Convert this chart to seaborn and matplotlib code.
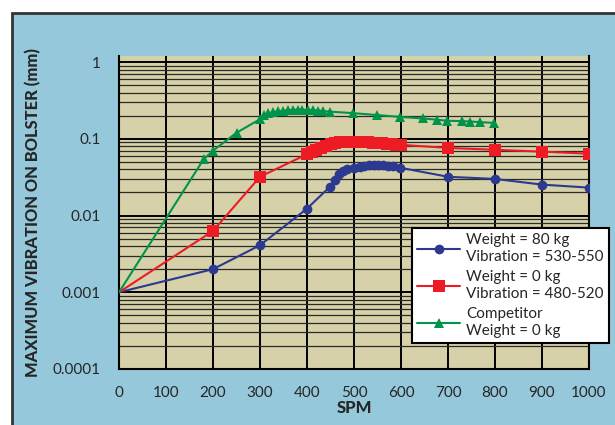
import numpy as np
import pandas as pd
import seaborn as sns
import matplotlib.pyplot as plt
from matplotlib.patches import Rectangle
from matplotlib.ticker import LogLocator, FixedLocator, NullFormatter

# datos
spm_80 = [0, 200, 300, 400, 449, 460, 468, 477, 485, 500, 512, 522, 532, 542,
          552, 562, 572, 582, 598, 700, 800, 900, 1000]
vib_80 = [0.001, 0.0020, 0.0041, 0.0123, 0.0238, 0.029, 0.035, 0.038, 0.041,
          0.042, 0.043, 0.044, 0.045, 0.0452, 0.0452, 0.045, 0.0445, 0.044,
          0.042, 0.032, 0.030, 0.0253, 0.0231]

spm_0 = [0, 200, 300, 400, 410, 420, 430, 440, 450, 460, 470, 480, 490, 500,
         510, 520, 530, 540, 550, 560, 570, 580, 590, 600, 700, 800, 900, 1000]
vib_0 = [0.001, 0.0063, 0.032, 0.063, 0.067, 0.072, 0.077, 0.081, 0.085,
         0.088, 0.090, 0.091, 0.092, 0.092, 0.092, 0.091, 0.090, 0.089,
         0.088, 0.087, 0.086, 0.085, 0.084, 0.0835, 0.076, 0.072, 0.068, 0.064]

spm_comp = [0, 180, 200, 250, 300, 308, 318, 328, 339, 349, 360, 370, 381, 390,
            402, 412, 423, 434, 449, 498, 549, 598, 647, 677, 698, 730, 747,
            768, 798]
vib_comp = [0.001, 0.054, 0.070, 0.12, 0.18, 0.205, 0.215, 0.222, 0.228, 0.232,
            0.236, 0.238, 0.24, 0.24, 0.238, 0.236, 0.233, 0.23, 0.226, 0.216,
            0.204, 0.193, 0.184, 0.177, 0.172, 0.170, 0.168, 0.165, 0.161]

labels = ["Weight = 80 kg\nVibration = 530-550",
          "Weight = 0 kg\nVibration = 480-520",
          "Competitor\nWeight = 0 kg"]
x_ticks = [0, 100, 200, 300, 400, 500, 600, 700, 800, 900, 1000]
y_ticks = [0.0001, 0.001, 0.01, 0.1, 1]
y_ticklabels = ["0.0001", "0.001", "0.01", "0.1", "1"]

sns.set_style("white")
plt.rcParams['font.family'] = ['Lato', 'DejaVu Sans']

fig = plt.figure(figsize=(6.15, 4.25), dpi=100)
fig.patch.set_facecolor("white")

# panel azul de fondo (en un eje aparte, detras de todo)
bg = fig.add_axes([0, 0, 1, 1], zorder=-1)
bg.set_xlim(0, 615)
bg.set_ylim(425, 0)
bg.axis("off")
bg.add_patch(Rectangle((12, 13), 700, 500, facecolor="#95C8DB",
                       edgecolor="#333333", linewidth=2))

ax = fig.add_axes([119 / 615, (425 - 369) / 425, 470 / 615, 313 / 425], zorder=1)
ax.set_facecolor("#D6D1A8")

colores = ["#2B3990", "#ED1C24", "#00934A"]
marcadores = ["o", "s", "^"]
tamanos = [7, 9, 6.5]
series = [(spm_80, vib_80), (spm_0, vib_0), (spm_comp, vib_comp)]
for (xs, ys), lab, c, m, ms in zip(series, labels, colores, marcadores, tamanos):
    df = pd.DataFrame({"SPM": xs, "vib": ys})
    # el punto de origen no lleva marcador
    sns.lineplot(data=df, x="SPM", y="vib", ax=ax, color=c, marker=m,
                 markersize=ms, markeredgewidth=0, linewidth=1.5, label=lab,
                 markevery=list(range(1, len(xs))), zorder=3)

ax.set_yscale("log")
ax.set_xlim(0, 1000)
ax.set_ylim(1e-4, 1.2)
ax.xaxis.set_major_locator(FixedLocator(x_ticks))
ax.yaxis.set_major_locator(FixedLocator(y_ticks))
ax.set_yticklabels(y_ticklabels)
ax.yaxis.set_minor_locator(LogLocator(base=10, subs=np.arange(2, 10)))
ax.yaxis.set_minor_formatter(NullFormatter())

ax.grid(True, which="major", color="black", linewidth=1.4, zorder=1)
ax.grid(True, which="minor", axis="y", color="#2a2a2a", linewidth=0.9)
ax.set_axisbelow(True)
for s in ax.spines.values():
    s.set_color("black")
    s.set_linewidth(1.5)
ax.spines["top"].set_visible(False)

ax.tick_params(axis="both", which="both", length=0, labelsize=11)
ax.tick_params(axis="x", pad=12)
ax.tick_params(axis="y", pad=13)
ax.set_xlabel("SPM", fontsize=12, fontweight=900, labelpad=0)
ax.set_ylabel("MAXIMUM VIBRATION ON BOLSTER (mm)", fontsize=11.9,
              fontweight=900)
ax.yaxis.set_label_coords(-0.165, 0.5)

leg = ax.legend(loc="upper left", bbox_to_anchor=(412 / 615, 1 - 228 / 425),
                bbox_transform=fig.transFigure, frameon=True, fancybox=False,
                edgecolor="black", framealpha=1, fontsize=11,
                handlelength=2.8, handletextpad=0.4, labelspacing=0.45,
                borderpad=0.35, borderaxespad=0)
leg.get_frame().set_linewidth(1.5)
leg.set_zorder(5)

fig.savefig("out.png", dpi=100)
